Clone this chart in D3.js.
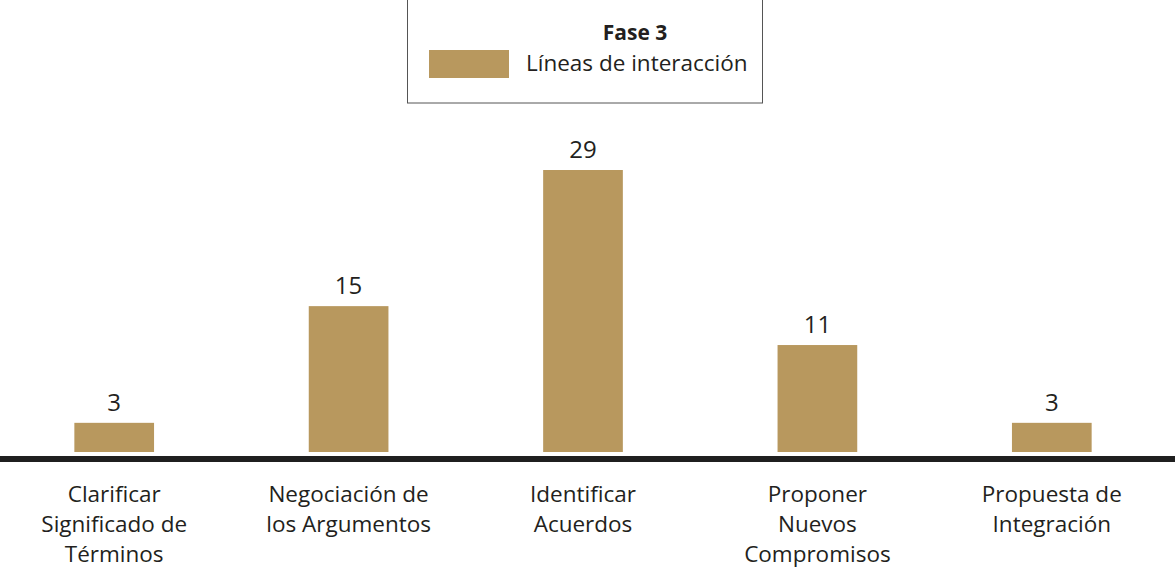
<!DOCTYPE html>
<html>
<head>
<meta charset="utf-8">
<script src="https://cdn.jsdelivr.net/npm/d3@7"></script>
<style>
  body { margin: 0; background: #fff; }
  svg { display: block; }
  text { font-family: "Open Sans", "Noto Sans", sans-serif; fill: #231f20; }
</style>
</head>
<body>
<div id="chart"></div>
<script>
// chart data
const categories = [
    ["Clarificar", "Significado de", "Términos"],
    ["Negociación de", "los Argumentos"],
    ["Identificar", "Acuerdos"],
    ["Proponer", "Nuevos", "Compromisos"],
    ["Propuesta de", "Integración"]
];
const values = [3, 15, 29, 11, 3];
const legendTitle = "Fase 3";
const seriesName = "Líneas de interacción";

const width = 1175, height = 569;
const barColor = "#b8985e";

let svg = d3.select("#chart").append("svg")
    .attr("width", width)
    .attr("height", height);

let x = d3.scaleBand()
    .domain(d3.range(values.length))
    .range([-3, 1169])
    .paddingInner(0.66)
    .paddingOuter(0.33);

let y = d3.scaleLinear()
    .domain([0, 29])
    .range([452, 170]);

// bars
svg.selectAll("rect.bar")
    .data(values)
    .enter()
    .append("rect")
    .attr("class", "bar")
    .attr("x", (d, i) => x(i))
    .attr("y", d => y(d))
    .attr("width", x.bandwidth())
    .attr("height", d => y(0) - y(d))
    .style("fill", barColor);

// value labels
svg.selectAll("text.value")
    .data(values)
    .enter()
    .append("text")
    .attr("class", "value")
    .attr("x", (d, i) => x(i) + x.bandwidth() / 2)
    .attr("y", d => y(d) - 12)
    .attr("text-anchor", "middle")
    .style("font-size", "24px")
    .text(d => d);

// baseline
svg.append("line")
    .attr("x1", 0)
    .attr("x2", width)
    .attr("y1", 459)
    .attr("y2", 459)
    .style("stroke", "#1f1f1f")
    .style("stroke-width", 6);

// category labels
let labels = svg.selectAll("text.cat")
    .data(categories)
    .enter()
    .append("text")
    .attr("class", "cat")
    .attr("text-anchor", "middle")
    .style("font-size", "22.5px");

labels.selectAll("tspan")
    .data((d, i) => d.map(t => ({ t: t, i: i })))
    .enter()
    .append("tspan")
    .attr("x", d => x(d.i) + x.bandwidth() / 2)
    .attr("y", (d, j) => 502 + j * 30)
    .text(d => d.t);

// legend
let legend = svg.append("g");
legend.append("rect")
    .attr("x", 407.5)
    .attr("y", -1)
    .attr("width", 355)
    .attr("height", 104)
    .style("fill", "none")
    .style("stroke", "#555")
    .style("stroke-width", 1);
legend.append("text")
    .attr("x", 635)
    .attr("y", 40)
    .attr("text-anchor", "middle")
    .style("font-size", "21px")
    .style("font-weight", "bold")
    .text(legendTitle);
legend.append("rect")
    .attr("x", 429)
    .attr("y", 50)
    .attr("width", 80)
    .attr("height", 28)
    .style("fill", barColor);
legend.append("text")
    .attr("x", 526)
    .attr("y", 71)
    .style("font-size", "22.5px")
    .text(seriesName);
</script>
</body>
</html>
